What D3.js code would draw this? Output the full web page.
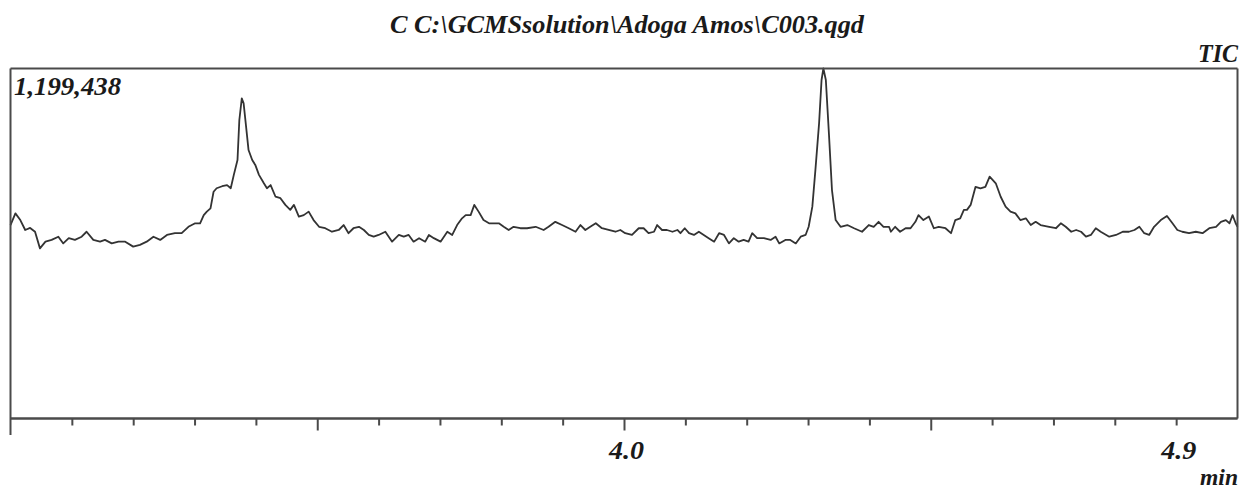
<!DOCTYPE html>
<html>
<head>
<meta charset="utf-8">
<script src="https://cdn.jsdelivr.net/npm/d3@7"></script>
<style>
  html, body { margin: 0; padding: 0; background: #fff; }
  svg { display: block; }
  text { font-family: "Liberation Serif", "Times New Roman", serif; font-style: italic; font-weight: bold; fill: #1a1a1a; }
</style>
</head>
<body>
<svg id="chart" width="1242" height="490"></svg>
<script>
// ---- data (retention time in min, TIC intensity in counts) ----
const titleText = "C C:\\GCMSsolution\\Adoga Amos\\C003.qgd";
const chromLabel = "TIC";
const xUnit = "min";
const maxIntensity = 1199438;
const timeDomain = [3.0, 5.0];
const majorTicks = [3.5, 4.0, 4.5];
const minorTicks = [3.1, 3.2, 3.3, 3.4, 3.6, 3.7, 3.8, 3.9, 4.1, 4.2, 4.3, 4.4, 4.6, 4.7, 4.8, 4.9];
const tickLabels = { "4.0": "4.0", "4.9": "4.9" };

const times = [
  3.000, 3.008, 3.016, 3.024, 3.032, 3.040, 3.048, 3.057, 3.067, 3.078,
  3.086, 3.095, 3.105, 3.116, 3.124, 3.135, 3.146, 3.154, 3.165, 3.176,
  3.187, 3.200, 3.211, 3.222, 3.233, 3.244, 3.255, 3.268, 3.279, 3.290,
  3.301, 3.309, 3.315, 3.320, 3.326, 3.331, 3.336, 3.345, 3.353, 3.359,
  3.364, 3.370, 3.373, 3.377, 3.380, 3.384, 3.388, 3.394, 3.399, 3.405,
  3.413, 3.418, 3.424, 3.432, 3.440, 3.448, 3.456, 3.462, 3.470, 3.478,
  3.486, 3.494, 3.503, 3.513, 3.524, 3.535, 3.543, 3.551, 3.559, 3.568,
  3.576, 3.584, 3.592, 3.600, 3.611, 3.622, 3.633, 3.641, 3.649, 3.657,
  3.666, 3.676, 3.682, 3.690, 3.701, 3.712, 3.720, 3.728, 3.736, 3.742,
  3.750, 3.756, 3.763, 3.771, 3.780, 3.788, 3.796, 3.804, 3.812, 3.820,
  3.831, 3.842, 3.856, 3.869, 3.877, 3.888, 3.899, 3.910, 3.921, 3.929,
  3.937, 3.945, 3.954, 3.964, 3.975, 3.986, 3.994, 4.002, 4.013, 4.024,
  4.032, 4.040, 4.049, 4.054, 4.062, 4.070, 4.079, 4.087, 4.092, 4.099,
  4.106, 4.114, 4.122, 4.130, 4.138, 4.147, 4.155, 4.163, 4.171, 4.179,
  4.187, 4.195, 4.203, 4.209, 4.217, 4.228, 4.239, 4.247, 4.253, 4.263,
  4.271, 4.280, 4.288, 4.296, 4.301, 4.307, 4.312, 4.318, 4.322, 4.325,
  4.329, 4.334, 4.339, 4.345, 4.353, 4.364, 4.375, 4.388, 4.399, 4.407,
  4.415, 4.423, 4.432, 4.435, 4.442, 4.450, 4.459, 4.467, 4.475, 4.480,
  4.488, 4.497, 4.505, 4.513, 4.524, 4.533, 4.540, 4.548, 4.554, 4.559,
  4.565, 4.573, 4.581, 4.589, 4.596, 4.606, 4.614, 4.622, 4.630, 4.638,
  4.646, 4.655, 4.663, 4.671, 4.679, 4.693, 4.704, 4.712, 4.720, 4.729,
  4.737, 4.745, 4.753, 4.761, 4.769, 4.777, 4.791, 4.802, 4.813, 4.823,
  4.832, 4.840, 4.848, 4.856, 4.864, 4.875, 4.885, 4.894, 4.902, 4.910,
  4.921, 4.932, 4.943, 4.954, 4.965, 4.973, 4.981, 4.987, 4.992, 4.997,
  5.000
];

const intensities = [
  663000, 703000, 680000, 646000, 653000, 640000, 583000, 606000, 612000, 623000,
  600000, 618000, 612000, 623000, 640000, 612000, 606000, 612000, 600000, 606000,
  606000, 589000, 595000, 606000, 623000, 612000, 629000, 635000, 635000, 657000,
  669000, 669000, 697000, 709000, 720000, 777000, 789000, 796000, 800000, 789000,
  835000, 886000, 1023000, 1097000, 1080000, 1000000, 920000, 886000, 869000, 835000,
  806000, 789000, 800000, 760000, 755000, 732000, 715000, 732000, 692000, 697000,
  709000, 680000, 657000, 652000, 640000, 646000, 663000, 635000, 652000, 657000,
  646000, 629000, 623000, 629000, 640000, 606000, 629000, 623000, 629000, 606000,
  618000, 606000, 629000, 618000, 606000, 640000, 629000, 663000, 686000, 697000,
  697000, 732000, 709000, 680000, 669000, 669000, 669000, 657000, 646000, 657000,
  652000, 652000, 657000, 646000, 657000, 674000, 663000, 652000, 640000, 663000,
  646000, 657000, 669000, 652000, 646000, 640000, 646000, 635000, 629000, 652000,
  652000, 635000, 640000, 663000, 646000, 646000, 640000, 646000, 635000, 652000,
  635000, 629000, 640000, 629000, 618000, 606000, 635000, 629000, 600000, 618000,
  606000, 612000, 606000, 635000, 618000, 618000, 612000, 623000, 600000, 612000,
  612000, 600000, 623000, 629000, 657000, 726000, 852000, 1012000, 1160000, 1199438,
  1160000, 977000, 783000, 680000, 657000, 663000, 652000, 640000, 663000, 657000,
  674000, 657000, 657000, 640000, 657000, 640000, 652000, 652000, 674000, 697000,
  680000, 692000, 652000, 657000, 652000, 635000, 680000, 686000, 715000, 715000,
  732000, 794000, 789000, 794000, 829000, 806000, 760000, 726000, 709000, 703000,
  680000, 686000, 663000, 674000, 663000, 657000, 652000, 669000, 657000, 640000,
  646000, 640000, 623000, 629000, 652000, 640000, 623000, 629000, 640000, 640000,
  646000, 657000, 635000, 629000, 657000, 680000, 694000, 669000, 646000, 640000,
  635000, 640000, 635000, 652000, 657000, 674000, 680000, 669000, 697000, 669000,
  657000
];

// ---- layout ----
const svg = d3.select("#chart");
const plotLeft = 10.5, plotRight = 1237.5, plotTop = 68.5, plotBottom = 418.5;

const x = d3.scaleLinear().domain(timeDomain).range([plotLeft, plotRight]);
const y = d3.scaleLinear().domain([0, maxIntensity]).range([plotBottom, plotTop]);

const frameColor = "#4a4a4a";

// trace
const pts = times.map((t, i) => [t, intensities[i]]);
const line = d3.line().x(d => x(d[0])).y(d => y(d[1]));
svg.append("path")
  .datum(pts)
  .attr("d", line)
  .attr("fill", "none")
  .attr("stroke", "#333")
  .attr("stroke-width", 1.8)
  .attr("stroke-linejoin", "round");

// frame: top, right, left (left extends below baseline)
svg.append("line").attr("x1", plotLeft).attr("x2", plotRight).attr("y1", plotTop).attr("y2", plotTop)
  .attr("stroke", frameColor).attr("stroke-width", 2);
svg.append("line").attr("x1", plotRight).attr("x2", plotRight).attr("y1", plotTop).attr("y2", plotBottom)
  .attr("stroke", frameColor).attr("stroke-width", 2);
svg.append("line").attr("x1", plotLeft).attr("x2", plotLeft).attr("y1", plotTop).attr("y2", 435)
  .attr("stroke", frameColor).attr("stroke-width", 2);

// bottom axis - minor ticks
const minorAxis = d3.axisBottom(x).tickValues(minorTicks).tickSize(7).tickFormat(d => tickLabels[d.toFixed(1)] || "");
const gMinor = svg.append("g").attr("transform", `translate(0,${plotBottom})`).call(minorAxis);
// bottom axis - major ticks
const majorAxis = d3.axisBottom(x).tickValues(majorTicks).tickSize(12).tickFormat(d => tickLabels[d.toFixed(1)] || "");
const gMajor = svg.append("g").attr("transform", `translate(0,${plotBottom})`).call(majorAxis);

[gMinor, gMajor].forEach(g => {
  g.select(".domain").attr("stroke", frameColor).attr("stroke-width", 2)
    .attr("d", `M${plotLeft},0H${plotRight}`);
  g.selectAll(".tick line").attr("stroke", frameColor).attr("stroke-width", 2);
  g.selectAll(".tick text")
    .attr("y", 0).attr("dy", null)
    .attr("transform", "translate(2,40)")
    .style("font-size", "25px")
    .style("font-family", "'Liberation Serif', serif")
    .attr("fill", "#1a1a1a")
    .filter(function() { return this.textContent !== ""; })
    .attr("textLength", 35).attr("lengthAdjust", "spacingAndGlyphs");
});

// texts
svg.append("text").attr("x", 627).attr("y", 33).attr("text-anchor", "middle")
  .style("font-size", "25px")
  .attr("textLength", 474).attr("lengthAdjust", "spacingAndGlyphs")
  .text(titleText);
svg.append("text").attr("x", 1238).attr("y", 62).attr("text-anchor", "end")
  .style("font-size", "25px")
  .attr("textLength", 40).attr("lengthAdjust", "spacingAndGlyphs")
  .text(chromLabel);
svg.append("text").attr("x", 14).attr("y", 95)
  .style("font-size", "25px")
  .attr("textLength", 107).attr("lengthAdjust", "spacingAndGlyphs")
  .text(d3.format(",")(maxIntensity));
svg.append("text").attr("x", 1238).attr("y", 485).attr("text-anchor", "end")
  .style("font-size", "24px")
  .attr("textLength", 38).attr("lengthAdjust", "spacingAndGlyphs")
  .text(xUnit);
</script>
</body>
</html>
